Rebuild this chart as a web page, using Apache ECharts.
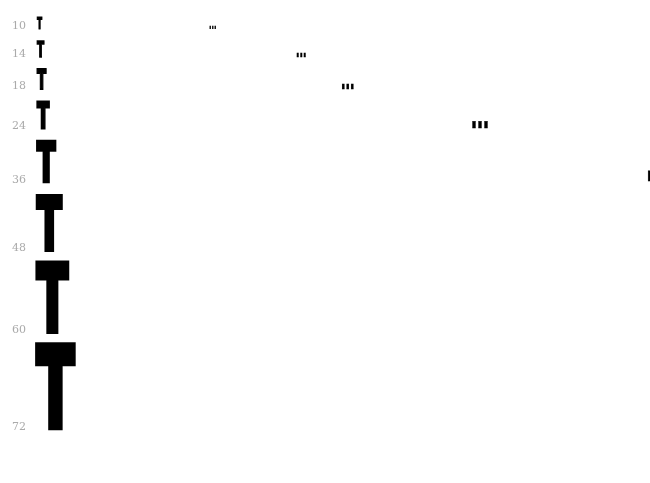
<!DOCTYPE html>
<html lang="en">
<head>
    <meta charset="UTF-8">
    <title>Type specimen</title>
    <style>
        html, body { margin: 0; padding: 0; background: #fff; }
    </style>
</head>
<body>
    <div id="chart" style="width:650px; height:483px"></div>

    <script src="https://cdn.jsdelivr.net/npm/echarts@6/dist/echarts.min.js"></script>
    <script>
        // font sizes shown in the specimen, top to bottom
        const fontSizes = [10, 14, 18, 24, 36, 48, 60, 72];
        const sizeLabels = ['10', '14', '18', '24', '36', '48', '60', '72'];
        // where each line's trailing ellipsis starts (px along the line)
        const ellipsisX = [209, 296, 341, 471, 646, 870, 1090, 1310];

        // line layout: each line takes ~1.19 x size plus a fixed gap
        const baselines = [];
        let y = 7;
        fontSizes.forEach(s => { y += 1.19 * s + 11; baselines.push(y); });

        const chart = echarts.init(document.getElementById('chart'));

        // glyph drawn condensed: big bold face squeezed horizontally, stroked to thicken
        const glyph = (text, x, base, s, weight) => {
            const F = 1.5 * s;
            return {
                type: 'text',
                x: x,
                y: base - 0.30 * F,
                scaleX: 0.5,
                style: {
                    text: text,
                    fontFamily: 'DejaVu Sans',
                    fontWeight: 'bold',
                    fontSize: F,
                    fill: '#000',
                    stroke: '#000',
                    lineWidth: weight * s,
                    align: 'left',
                    verticalAlign: 'middle'
                }
            };
        };

        chart.setOption({
            animation: false,
            grid: { left: 0, right: 0, top: 0, bottom: 0 },
            xAxis: { type: 'value', min: 0, max: 650, show: false },
            yAxis: { type: 'value', min: 0, max: 483, inverse: true, show: false },
            series: [{
                // gray size labels
                type: 'custom',
                silent: true,
                data: fontSizes.map((s, i) => [12, baselines[i], i]),
                renderItem: (params, api) => {
                    const p = api.coord([api.value(0), api.value(1)]);
                    return {
                        type: 'text',
                        x: p[0],
                        y: p[1] + 2,
                        style: {
                            text: sizeLabels[api.value(2)],
                            fontFamily: 'Georgia, "DejaVu Serif", serif',
                            fontSize: 11,
                            fill: '#aaaaaa',
                            align: 'left',
                            verticalAlign: 'bottom'
                        }
                    };
                }
            }, {
                // the specimen "T"
                type: 'custom',
                silent: true,
                data: fontSizes.map((s, i) => [37, baselines[i], s]),
                renderItem: (params, api) => {
                    const p = api.coord([api.value(0), api.value(1)]);
                    return glyph('T', p[0], p[1], api.value(2), 0.12);
                }
            }, {
                // trailing ellipsis of each line
                type: 'custom',
                silent: true,
                data: fontSizes.map((s, i) => [ellipsisX[i], baselines[i], s]),
                renderItem: (params, api) => {
                    const p = api.coord([api.value(0), api.value(1)]);
                    return glyph('\u2026', p[0], p[1], api.value(2), 0.02);
                }
            }]
        });
    </script>
</body>
</html>
